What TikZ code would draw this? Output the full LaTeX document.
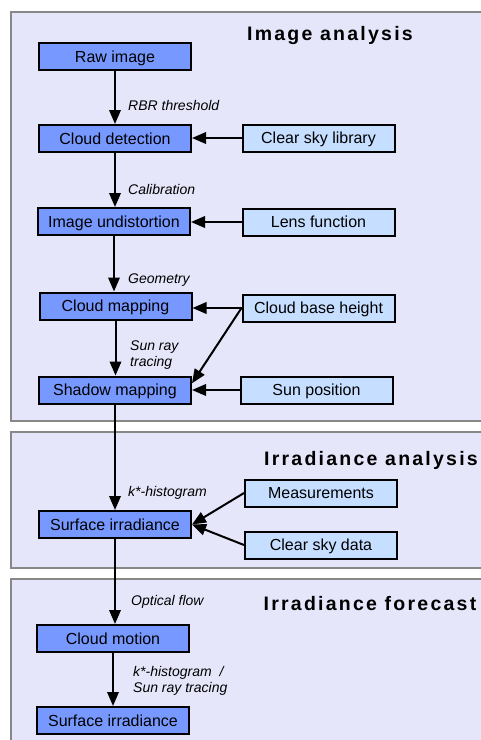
\documentclass[tikz,border=0pt]{standalone}
\usepackage{fontspec}
\setmainfont{Liberation Sans}
\newfontfamily\titlefont[LetterSpace=11.5]{Liberation Sans}
\usetikzlibrary{arrows.meta,calc}
\definecolor{panelfill}{RGB}{230,230,250}
\definecolor{panelline}{RGB}{136,136,136}
\definecolor{procfill}{RGB}{119,153,255}
\definecolor{inputfill}{RGB}{198,222,255}
\begin{document}
\begin{tikzpicture}[x=1pt,y=-1pt,
  panel/.style={draw=panelline, line width=2.3pt, fill=panelfill},
  proc/.style={draw=black, line width=2pt, fill=procfill, minimum width=152pt, minimum height=27pt, inner sep=0pt, text height=14.5pt, text depth=3pt, font=\fontsize{16}{18}\selectfont},
  inp/.style={proc, fill=inputfill},
  lbl/.style={font=\fontsize{14}{16}\selectfont\itshape, inner sep=0pt, align=left},
  ttl/.style={font=\titlefont\bfseries\fontsize{19.5}{22}\selectfont, inner sep=0pt},
  arr/.style={line width=2pt, -{Triangle[length=14pt,width=11.5pt]}}
]
\useasboundingbox (0,0) rectangle (481,740);
\clip (0,0) rectangle (481,740);
\fill[white] (0,0) rectangle (481,740);
% panels
\draw[panel] (11,12) rectangle (530,421);
\draw[panel] (11,432) rectangle (530,568);
\draw[panel] (11,579) rectangle (530,780);
% titles
\node[ttl, anchor=base] (t1) at (330,40) {Image analysis};
\node[ttl, anchor=base] (t2) at (371,465) {Irradiance analysis};
\node[ttl, anchor=base] (t3) at (370,610) {Irradiance forecast};
% process nodes
\node[proc] (raw) at (115,56.5) {Raw image};
\node[proc] (det) at (115,138.5) {Cloud detection};
\node[inp]  (csl) at (318.5,138) {Clear sky library};
\node[proc] (und) at (114,221.5) {Image undistortion};
\node[inp]  (lens) at (318.5,222) {Lens function};
\node[proc] (cmap) at (115.5,306) {Cloud mapping};
\node[inp]  (cbh) at (318.5,308) {Cloud base height};
\node[proc] (smap) at (115,390) {Shadow mapping};
\node[inp]  (sun) at (316.5,390) {Sun position};
\node[inp]  (meas) at (321,493) {Measurements};
\node[proc] (sirr) at (115,524.5) {Surface irradiance};
\node[inp]  (csd) at (321,545) {Clear sky data};
\node[proc] (cmot) at (113,638.5) {Cloud motion};
\node[proc] (sirrf) at (113,720.5) {Surface irradiance};
% labels
\node[lbl, anchor=base west] (l1) at (128,110) {RBR threshold};
\node[lbl, anchor=base west] (l2) at (128,194) {Calibration};
\node[lbl, anchor=base west] (l3) at (128,283) {Geometry};
\node[lbl, anchor=north west] (l4) at (130,341) {Sun ray\\tracing};
\node[lbl, anchor=base west] (l5) at (128,496) {k*-histogram};
\node[lbl, anchor=base west] (l6) at (131,605) {Optical flow};
\node[lbl, anchor=north west] (l7) at (133,666) {k*-histogram \ /\\Sun ray tracing};
% connectors
\draw[arr] (raw.south) -- (raw.south |- det.north);
\draw[arr] (det.south) -- (det.south |- und.north);
\draw[arr] (und.south) -- (und.south |- cmap.north);
\draw[arr] (cmap.south) -- (cmap.south |- smap.north);
\draw[arr] (smap.south) -- (smap.south |- sirr.north);
\draw[arr] (sirr.south) -- (sirr.south |- cmot.north);
\draw[arr] (cmot.south) -- (cmot.south |- sirrf.north);
\draw[arr] (csl.west) -- (det.east |- csl.west);
\draw[arr] (lens.west) -- (und.east |- lens.west);
\draw[arr] (cbh.west) -- (cmap.east |- cbh.west);
\draw[arr] (cbh.west) -- (smap.5);
\draw[arr] (sun.west) -- (smap.east |- sun.west);
\draw[arr] (meas.west) -- (sirr.east);
\draw[arr] (csd.west) -- (sirr.east);
\end{tikzpicture}
\end{document}
